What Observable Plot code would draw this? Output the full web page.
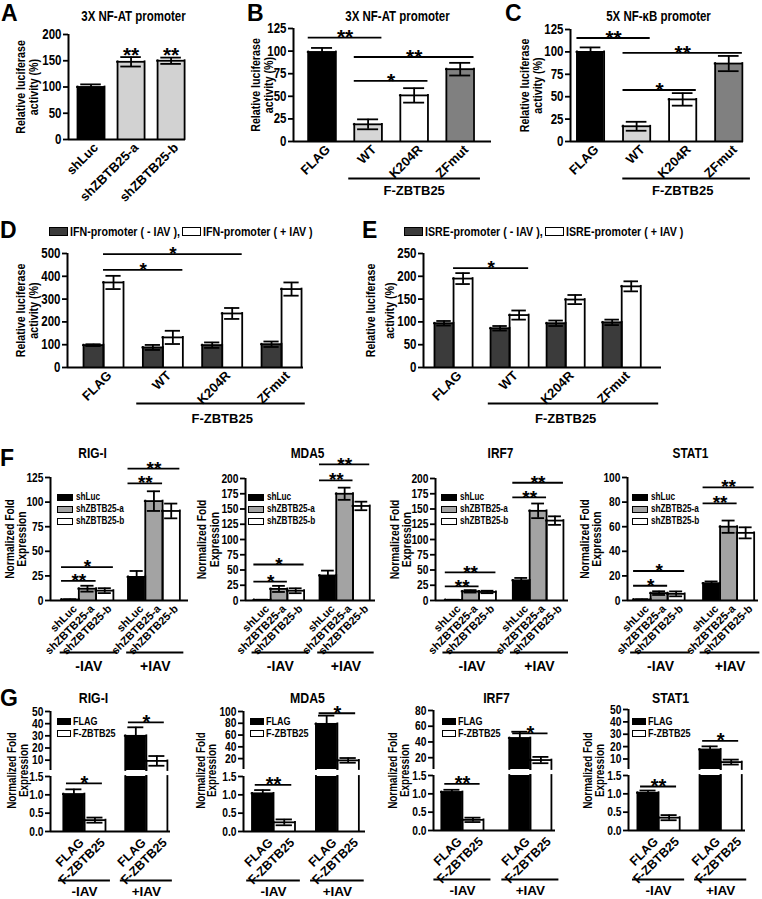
<!DOCTYPE html>
<html><head><meta charset="utf-8">
<script src="https://cdn.jsdelivr.net/npm/d3@7"></script>
<script src="https://cdn.jsdelivr.net/npm/@observablehq/plot@0.6"></script>
<style>
body{margin:0;background:#fff;}
#root{position:relative;width:762px;height:899px;overflow:hidden;background:#fff;font-family:"Liberation Sans Narrow","Liberation Sans",Arial,sans-serif;font-weight:bold;color:#000;}
#root svg{position:absolute;overflow:visible;}
.lab{position:absolute;font-family:"Liberation Sans",Arial,sans-serif;font-weight:bold;font-size:23px;line-height:1;}
.leg{position:absolute;font-weight:bold;white-space:nowrap;line-height:1;}
.leg .row{display:flex;align-items:center;}
.leg .txt{display:inline-block;transform-origin:left center;}
.sw{display:inline-block;border:1.5px solid #000;box-sizing:border-box;flex:none;}
</style></head><body><div id="root"></div>
<script>
const NARROW = '"Liberation Sans Narrow","Liberation Sans",Arial,sans-serif';
const WIDE = '"Liberation Sans",Arial,sans-serif';

// ---------------- DATA ----------------
// Panel A
const aLabels = ["shLuc", "shZBTB25-a", "shZBTB25-b"];
const aMeans = [100, 148, 150];
const aErrs = [5, 9, 6];
const aStars = ["", "**", "**"];
// Panels B, C
const mutLabels = ["FLAG", "WT", "K204R", "ZFmut"];
const bMeans = [99, 19, 51, 80];
const bErrs = [4.5, 5.5, 8, 7];
const bSig = [["FLAG", "WT", 115, "**"], ["WT", "ZFmut", 93.5, "**"], ["WT", "K204R", 67, "*"]];
const cMeans = [100, 17, 47, 87];
const cErrs = [5, 5, 7, 8.5];
const cSig = [["FLAG", "WT", 115.5, "**"], ["WT", "ZFmut", 99, "**"], ["WT", "K204R", 57.5, "*"]];
// Panels D, E  (-IAV, +IAV)
const dMinus = [98, 88, 98, 102];
const dMinusErr = [4, 11, 12, 12];
const dPlus = [373, 132, 237, 344];
const dPlusErr = [29, 29, 24, 29];
const dSig = [["FLAG", "WT", 428, "*"], ["FLAG", "K204R", 497, "*"]];
const eMinus = [97, 86, 97, 99];
const eMinusErr = [5, 5, 6, 6];
const ePlus = [195, 115, 149, 178];
const ePlusErr = [12, 10, 10, 11];
const eSig = [["FLAG", "WT", 218, "*"]];
// Panel F
const iavGroups = ["-IAV", "+IAV"];
const shLabels = ["shLuc", "shZBTB25-a", "shZBTB25-b"];
const fTitles = ["RIG-I", "MDA5", "IRF7", "STAT1"];
const fMinus = [[1, 12, 10], [1, 19, 16], [1, 15, 14], [0.8, 6, 5.4]];
const fMinusErr = [[0.3, 3, 2.5], [0.3, 5, 4], [0.3, 2, 2], [0.2, 1.5, 2]];
const fPlus = [[24, 101, 91], [41, 175, 155], [33, 147, 131], [14, 60, 55]];
const fPlusErr = [[6, 10, 7.5], [8, 10, 7], [4, 12, 7], [1.5, 5, 4.5]];
const fTicks = [[0, 25, 50, 75, 100, 125], [0, 25, 50, 75, 100, 125, 150, 175, 200], [0, 25, 50, 75, 100, 125, 150, 175, 200], [0, 20, 40, 60, 80, 100]];
const fSig = [
  [["-IAV", "shLuc", "shZBTB25-a", 20, "**"], ["-IAV", "shLuc", "shZBTB25-b", 34, "*"], ["+IAV", "shLuc", "shZBTB25-a", 119, "**"], ["+IAV", "shLuc", "shZBTB25-b", 134, "**"]],
  [["-IAV", "shLuc", "shZBTB25-a", 31, "*"], ["-IAV", "shLuc", "shZBTB25-b", 59, "*"], ["+IAV", "shLuc", "shZBTB25-a", 197, "**"], ["+IAV", "shLuc", "shZBTB25-b", 223, "**"]],
  [["-IAV", "shLuc", "shZBTB25-a", 23, "**"], ["-IAV", "shLuc", "shZBTB25-b", 46, "**"], ["+IAV", "shLuc", "shZBTB25-a", 169, "**"], ["+IAV", "shLuc", "shZBTB25-b", 193, "**"]],
  [["-IAV", "shLuc", "shZBTB25-a", 12, "*"], ["-IAV", "shLuc", "shZBTB25-b", 24, "*"], ["+IAV", "shLuc", "shZBTB25-a", 79, "**"], ["+IAV", "shLuc", "shZBTB25-b", 92, "**"]]
];
// Panel G
const gLabels = ["FLAG", "F-ZBTB25"];
const gMinus = [[1.02, 0.31], [1.04, 0.25], [1.05, 0.29], [1.03, 0.35]];
const gMinusErr = [[0.13, 0.07], [0.09, 0.08], [0.06, 0.06], [0.06, 0.07]];
const gPlus = [[30, 9.4], [79, 17], [45, 17], [17.7, 7.5]];
const gPlusErr = [[7, 4], [14, 4], [8, 4], [2.5, 2]];
const gMinusSig = [[1.31, "*"], [1.27, "**"], [1.27, "**"], [1.2, "**"]];
const gPlusSig = [[41, "*"], [97, "*"], [51, "*"], [24.6, "*"]];
const gTopTicks = [[10, 20, 30, 40, 50], [20, 40, 60, 80, 100], [20, 40, 60, 80], [10, 20, 30, 40, 50]];
const gTopRange = [[1.5, 50], [1.5, 100], [5, 80], [1.5, 50]];
const gBottomTicks = [0, 0.5, 1.0, 1.5];

// ---------------- STYLES ----------------
const fillA = {"shLuc": "#000", "shZBTB25-a": "#d2d2d2", "shZBTB25-b": "#d2d2d2"};
const fillMut = {"FLAG": "#000", "WT": "#d6d6d6", "K204R": "#fff", "ZFmut": "#808080"};
const fillIAV = ["#3b3b3b", "#fff"];
const fillSh = ["#000", "#a3a3a3", "#fff"];
const fillFlag = ["#000", "#fff"];

// condensed-font detection: if no narrow face, squeeze glyphs along the baseline
const HAS_NARROW = (() => {
  const ctx = document.createElement("canvas").getContext("2d");
  const s = "Relative luciferase activity";
  ctx.font = 'bold 20px "Liberation Sans Narrow", monospace'; const a = ctx.measureText(s).width;
  ctx.font = 'bold 20px monospace'; const b = ctx.measureText(s).width;
  return Math.abs(a - b) > 0.5;
})();
const SQUEEZE = HAS_NARROW ? 1 : 0.82;

const root = document.getElementById("root");
function place(el, left, top) { el.style.left = left + "px"; el.style.top = top + "px"; root.appendChild(el); }

function panel(c) {
  const lo = c.yDomain[0], hi = c.yDomain[1];
  const bw = c.bw, cw = bw * 0.38, sw = 1.8;
  const bars = c.bars || [];
  const inSeg = bars.filter(d => d.v > lo);
  const topOf = d => Math.min(d.v, hi);
  const errB = bars.filter(d => d.e > 0 && d.v > lo && d.v <= hi);
  const N = {fontWeight: "bold", fontFamily: NARROW, ariaDescription: "narrow"};
  const W = {fontWeight: "bold", fontFamily: WIDE};
  const marks = [
    Plot.rect(inSeg, {x1: d => d.x - bw / 2, x2: d => d.x + bw / 2, y1: () => lo, y2: topOf, fill: d => d.fill}),
    Plot.ruleX(inSeg, {x: d => d.x - bw / 2, y1: () => lo, y2: topOf, strokeWidth: sw, strokeLinecap: "square"}),
    Plot.ruleX(inSeg, {x: d => d.x + bw / 2, y1: () => lo, y2: topOf, strokeWidth: sw, strokeLinecap: "square"}),
    Plot.ruleY(inSeg.filter(d => d.v <= hi), {x1: d => d.x - bw / 2, x2: d => d.x + bw / 2, y: d => d.v, strokeWidth: sw, strokeLinecap: "square"}),
    Plot.ruleX(errB, {x: d => d.x, y1: d => Math.max(lo, d.v - d.e), y2: d => Math.min(hi, d.v + d.e), strokeWidth: sw}),
    Plot.ruleY(errB.filter(d => d.v + d.e <= hi), {x1: d => d.x - cw, x2: d => d.x + cw, y: d => d.v + d.e, strokeWidth: sw}),
    Plot.ruleY(errB.filter(d => d.v - d.e > lo), {x1: d => d.x - cw, x2: d => d.x + cw, y: d => d.v - d.e, strokeWidth: sw}),
    Plot.ruleX([c.xDomain[0]], {strokeWidth: 2}),
    Plot.axisY({ticks: c.yTicks, tickFormat: c.tickFormat, tickSize: 5, tickPadding: 2, strokeWidth: sw, fontSize: c.tickSize || 12, fontWeight: "bold", fontFamily: NARROW, label: null})
  ];
  if (c.xAxis !== false) marks.push(Plot.ruleY([lo], {strokeWidth: 2}));
  if (c.sig) {
    marks.push(Plot.ruleY(c.sig, {x1: d => d.x1, x2: d => d.x2, y: d => d.y, strokeWidth: sw}));
    marks.push(Plot.text(c.sig, {x: d => (d.x1 + d.x2) / 2, y: d => d.y, text: d => d.label, fontSize: c.starSize || 21, lineAnchor: "middle", ...W}));
  }
  if (c.stars) marks.push(Plot.text(c.stars, {x: d => d.x, y: d => d.y, text: d => d.label, dy: -2, fontSize: c.starSize || 21, lineAnchor: "middle", ...W}));
  if (c.title) marks.push(Plot.text([c.title], {frameAnchor: "top", dx: c.titleX - (c.axisX + c.axisEnd) / 2, dy: c.titleY - c.yTopPx, fontSize: c.titleSize || 14, lineAnchor: "middle", ...N}));
  if (c.yLabel) marks.push(Plot.text([c.yLabel], {frameAnchor: "left", rotate: -90, dx: c.yLabelX - c.axisX, dy: c.yLabelDy || 0, fontSize: c.yLabelSize || 13, lineAnchor: "middle", textAnchor: "middle", lineHeight: c.yLabelLH || 1.0, ...N}));
  if (c.xLabels) marks.push(Plot.text(c.xLabels, {x: d => d.x, y: () => lo, text: d => d.text, rotate: -45, textAnchor: "end", lineAnchor: "middle", dx: c.xlDx, dy: c.xlDy, fontSize: c.xlSize || 13, ...W}));
  if (c.brackets) {
    marks.push(Plot.ruleY(c.brackets, {x1: d => d.x1, x2: d => d.x2, y: () => lo, dy: c.brDy, strokeWidth: sw}));
    marks.push(Plot.text(c.brackets, {x: d => d.xm, y: () => lo, text: d => d.text, dy: c.brTextDy, fontSize: c.brSize || 13, lineAnchor: "middle", ...W}));
  }
  const svg = Plot.plot({
    width: c.width, height: c.height,
    marginLeft: c.axisX - c.left, marginRight: c.left + c.width - c.axisEnd,
    marginTop: c.yTopPx - c.top, marginBottom: c.top + c.height - c.yBotPx,
    x: {domain: c.xDomain, axis: null},
    y: {domain: c.yDomain},
    color: {type: "identity"},
    style: {fontFamily: NARROW, fontWeight: "bold", fontSize: "12px", color: "#000", background: "transparent", overflow: "visible"},
    marks
  });
  place(svg, c.left, c.top);
}

function letter(t, left, top) { const d = document.createElement("div"); d.className = "lab"; d.textContent = t; place(d, left, top); }

function legendRows(items, left, top, o) {
  const d = document.createElement("div"); d.className = "leg"; d.style.fontSize = o.fs + "px";
  for (const [label, fill] of items) {
    const r = document.createElement("div"); r.className = "row"; r.style.height = o.rowH + "px";
    const s = document.createElement("span"); s.className = "sw"; s.style.width = o.sw + "px"; s.style.height = o.sh + "px"; s.style.background = fill; s.style.marginRight = o.gap + "px";
    const t = document.createElement("span"); t.className = "txt"; t.textContent = label;
    r.append(s, t); d.append(r);
  }
  place(d, left, top);
}
function legendInline(items, left, top, o) {
  const d = document.createElement("div"); d.className = "leg"; d.style.fontSize = o.fs + "px";
  const r = document.createElement("div"); r.className = "row"; d.append(r);
  for (const [label, fill] of items) {
    const s = document.createElement("span"); s.className = "sw"; s.style.width = o.sw + "px"; s.style.height = o.sh + "px"; s.style.background = fill; s.style.marginRight = "2px";
    const t = document.createElement("span"); t.className = "txt"; t.textContent = label; t.dataset.gap = "2";
    r.append(s, t);
  }
  place(d, left, top);
}

// ---------------- PANEL A ----------------
letter("A", 1, 2);
panel({left: 0, top: 0, width: 250, height: 185, axisX: 68, axisEnd: 185, yTopPx: 34, yBotPx: 139,
  xDomain: [-0.5625, 2.36], bw: 0.675, yDomain: [0, 200], yTicks: [0, 50, 100, 150, 200], tickSize: 14,
  bars: aLabels.map((k, i) => ({x: i, v: aMeans[i], e: aErrs[i], fill: fillA[k]})),
  stars: aLabels.map((k, i) => ({x: i, y: aMeans[i] + aErrs[i], label: aStars[i]})).filter(d => d.label),
  title: "3X NF-AT promoter", titleX: 133, titleY: 16,
  yLabel: "Relative luciferase\nactivity (%)", yLabelX: 26.5,
  xLabels: aLabels.map((k, i) => ({x: i, text: k})), xlDx: 5, xlDy: 6
});

// ---------------- PANELS B, C ----------------
function mutPanel(letterT, letterX, geo, means, errs, sig, title) {
  letter(letterT, letterX, 2);
  const bw = geo.bw;
  const idx = k => mutLabels.indexOf(k);
  panel(Object.assign({top: 0, height: 200, yBotPx: 141, yDomain: [0, 125], yTicks: [0, 25, 50, 75, 100, 125], tickSize: 14,
    bars: mutLabels.map((k, i) => ({x: i, v: means[i], e: errs[i], fill: fillMut[k]})),
    sig: sig.map(([a, b, y, l]) => ({x1: idx(a) - bw / 2, x2: idx(b) + bw / 2, y, label: l})),
    title, titleY: 16, yLabel: "Relative luciferase\nactivity (%)",
    xLabels: mutLabels.map((k, i) => ({x: i, text: k})), xlDx: 6, xlDy: 6,
    brackets: [{x1: 1 - geo.brL, x2: 3 + geo.brR, xm: 2, text: "F-ZBTB25"}], brDy: 37, brTextDy: 49
  }, geo));
}
mutPanel("B", 247, {left: 250, width: 255, axisX: 293, axisEnd: 491, yTopPx: 28, xDomain: [-0.62, 3.68], bw: 0.6, titleX: 397, yLabelX: 262, brL: 0.42, brR: 0.44}, bMeans, bErrs, bSig, "3X NF-AT promoter");
mutPanel("C", 505, {left: 505, width: 257, axisX: 570, axisEnd: 743, yTopPx: 29, xDomain: [-0.435, 3.32], bw: 0.59, titleX: 658, yLabelX: 531, brL: 0.3, brR: 0.47}, cMeans, cErrs, cSig, "5X NF-\u03BAB promoter");

// ---------------- PANELS D, E ----------------
function iavPanel(letterT, letterX, geo, minus, minusErr, plus, plusErr, sig, yMax, step, legName) {
  letter(letterT, letterX, 219);
  const bw = geo.bw;
  const idx = k => mutLabels.indexOf(k);
  const bars = [];
  mutLabels.forEach((k, i) => {
    bars.push({x: i - bw / 2, v: minus[i], e: minusErr[i], fill: fillIAV[0]});
    bars.push({x: i + bw / 2, v: plus[i], e: plusErr[i], fill: fillIAV[1]});
  });
  panel(Object.assign({top: 200, height: 230, yTopPx: 253, yBotPx: 367, yDomain: [0, yMax], yTicks: d3.range(0, yMax + 1, step), tickSize: 14,
    bars, starSize: 19,
    sig: sig.map(([a, b, y, l]) => ({x1: idx(a), x2: idx(b) + bw, y, label: l})),
    yLabel: "Relative luciferase\nactivity (%)",
    xLabels: mutLabels.map((k, i) => ({x: i, text: k})), xlDx: 6, xlDy: 6,
    brackets: [{x1: 1 - geo.brL, x2: 3 + geo.brR, xm: 2, text: "F-ZBTB25"}], brDy: 36, brTextDy: 51
  }, geo));
  legendInline([[legName + "-promoter ( - IAV ),", fillIAV[0]], [legName + "-promoter ( + IAV )", fillIAV[1]]], geo.legX, 225, {fs: 13, sw: 19, sh: 9});
}
iavPanel("D", 0, {left: 0, width: 381, axisX: 67, axisEnd: 303, xDomain: [-0.607, 3.37], bw: 0.337, yLabelX: 26.5, brL: 0.44, brR: 0.4, legX: 49}, dMinus, dMinusErr, dPlus, dPlusErr, dSig, 500, 100, "IFN");
iavPanel("E", 362, {left: 381, width: 381, axisX: 423, axisEnd: 661, xDomain: [-0.536, 3.71], bw: 0.34, yLabelX: 378, yLabelLH: 1.5, brL: 0.38, brR: 0.66, legX: 404}, eMinus, eMinusErr, ePlus, ePlusErr, eSig, 250, 50, "ISRE");

// ---------------- PANEL F ----------------
letter("F", 0, 447);
const fGeom = [
  {left: 0, width: 190, axisX: 50, axisEnd: 188, yTopPx: 477, xDomain: [-0.556, 1.52], bw: 0.26, titleX: 92, yLabelX: 15.5, legX: 57},
  {left: 190, width: 185, axisX: 245, axisEnd: 375, yTopPx: 478, xDomain: [-0.51, 1.47], bw: 0.255, titleX: 307, yLabelX: 208, legX: 248},
  {left: 375, width: 190, axisX: 435, axisEnd: 568, yTopPx: 478, xDomain: [-0.52, 1.45], bw: 0.25, titleX: 500, yLabelX: 400.5, legX: 441},
  {left: 565, width: 197, axisX: 627, axisEnd: 758, yTopPx: 477, xDomain: [-0.455, 1.43], bw: 0.245, titleX: 690, yLabelX: 590.5, legX: 632}
];
fGeom.forEach((geo, gi) => {
  const bw = geo.bw;
  const pos = (g, s) => iavGroups.indexOf(g) + (shLabels.indexOf(s) - 1) * bw;
  const bars = [], xl = [];
  iavGroups.forEach((g, j) => shLabels.forEach((s, i) => {
    const v = j === 0 ? fMinus[gi][i] : fPlus[gi][i];
    const e = j === 0 ? fMinusErr[gi][i] : fPlusErr[gi][i];
    bars.push({x: pos(g, s), v, e, fill: fillSh[i]});
    xl.push({x: pos(g, s), text: s});
  }));
  const ticks = fTicks[gi];
  panel(Object.assign({top: 430, height: 250, yBotPx: 600, yDomain: [0, ticks[ticks.length - 1]], yTicks: ticks, tickSize: 12.5,
    bars, starSize: 19,
    sig: fSig[gi].map(([g, a, b, y, l]) => ({x1: pos(g, a) - bw / 2, x2: pos(g, b) + bw / 2, y, label: l})),
    title: fTitles[gi], titleY: 453, titleSize: 14.5,
    yLabel: "Normalized Fold\nExpression", yLabelSize: 12.5,
    xLabels: xl, xlDx: 5, xlDy: 6.5, xlSize: 11,
    brackets: iavGroups.map((g, j) => ({x1: j - 0.41, x2: j + 0.45, xm: j + 0.02, text: g})), brDy: 52, brTextDy: 66, brSize: 14
  }, geo));
  legendRows(shLabels.map((s, i) => [s, fillSh[i]]), geo.legX, 491, {fs: 10, sw: 16, sh: 7, rowH: 12, gap: 3});
});

// ---------------- PANEL G ----------------
letter("G", 0, 687);
const gGeom = [
  {left: 0, width: 190, axisX: 50, axisEnd: 170, topPx: 711, segPx: 770, bTopPx: 776, bBotPx: 831, xDomain: [-0.548, 1.39], bw: 0.34, titleX: 93, yLabelX: 18, legX: 57},
  {left: 190, width: 185, axisX: 243, axisEnd: 365, topPx: 711, segPx: 769, bTopPx: 776, bBotPx: 831, xDomain: [-0.47, 1.44], bw: 0.336, titleX: 307, yLabelX: 206.5, legX: 250},
  {left: 375, width: 190, axisX: 433, axisEnd: 555, topPx: 710, segPx: 769, bTopPx: 775, bBotPx: 830, xDomain: [-0.426, 1.37], bw: 0.31, titleX: 496, yLabelX: 399, legX: 442},
  {left: 565, width: 197, axisX: 628, axisEnd: 745, topPx: 709, segPx: 769, bTopPx: 775, bBotPx: 830, xDomain: [-0.484, 1.4], bw: 0.34, titleX: 670, yLabelX: 594, legX: 632}
];
gGeom.forEach((geo, gi) => {
  const bw = geo.bw;
  const pos = (j, i) => j + (i - 0.5) * bw;
  const bars = [], xl = [];
  iavGroups.forEach((g, j) => gLabels.forEach((s, i) => {
    const v = j === 0 ? gMinus[gi][i] : gPlus[gi][i];
    const e = j === 0 ? gMinusErr[gi][i] : gPlusErr[gi][i];
    bars.push({x: pos(j, i), v, e, fill: fillFlag[i]});
    xl.push({x: pos(j, i), text: s});
  }));
  const common = {left: geo.left, width: geo.width, axisX: geo.axisX, axisEnd: geo.axisEnd, xDomain: geo.xDomain, bw, bars, starSize: 20};
  panel(Object.assign({}, common, {top: 685, height: 90, yTopPx: geo.topPx, yBotPx: geo.segPx, yDomain: gTopRange[gi], yTicks: gTopTicks[gi], tickSize: 12.5, xAxis: false,
    sig: [{x1: 1 - bw + 0.05, x2: 1 + bw - 0.05, y: gPlusSig[gi][0], label: gPlusSig[gi][1]}],
    title: fTitles[gi], titleX: geo.titleX, titleY: 698, titleSize: 15}));
  panel(Object.assign({}, common, {top: 775, height: 124, yTopPx: geo.bTopPx, yBotPx: geo.bBotPx, yDomain: [0, 1.5], yTicks: gBottomTicks, tickFormat: d3.format(".1f"), tickSize: 12.5,
    sig: [{x1: -bw + 0.05, x2: bw - 0.05, y: gMinusSig[gi][0], label: gMinusSig[gi][1]}],
    yLabel: "Normalized Fold\nExpression", yLabelX: geo.yLabelX, yLabelDy: 770 - (geo.bTopPx + geo.bBotPx) / 2, yLabelSize: 12, yLabelLH: 0.95,
    xLabels: xl, xlDx: 8, xlDy: 9, xlSize: 12.5,
    brackets: iavGroups.map((g, j) => ({x1: j - 0.42, x2: j + 0.42, xm: j, text: g})), brDy: 49, brTextDy: 60, brSize: 13.5}));
  legendRows(gLabels.map((s, i) => [s, fillFlag[i]]), geo.legX, 716, {fs: 11, sw: 14, sh: 7, rowH: 11.5, gap: 2});
});

// ---------------- condense narrow texts when no condensed face exists ----------------
if (SQUEEZE !== 1) {
  const sq = el => {
    const L = el.getComputedTextLength();
    if (L > 0) { el.setAttribute("textLength", (L * SQUEEZE).toFixed(2)); el.setAttribute("lengthAdjust", "spacingAndGlyphs"); }
  };
  root.querySelectorAll('g[aria-description="narrow"] text, g[aria-label="y-axis tick label"] text').forEach(t => {
    const sp = t.querySelectorAll("tspan");
    if (sp.length) sp.forEach(sq); else sq(t);
  });
  root.querySelectorAll(".leg .txt").forEach(t => {
    const w = t.getBoundingClientRect().width;
    t.style.transform = `scaleX(${SQUEEZE})`;
    t.style.marginRight = (t.dataset.gap ? +t.dataset.gap : 0) - w * (1 - SQUEEZE) + "px";
  });
}
</script></body></html>
